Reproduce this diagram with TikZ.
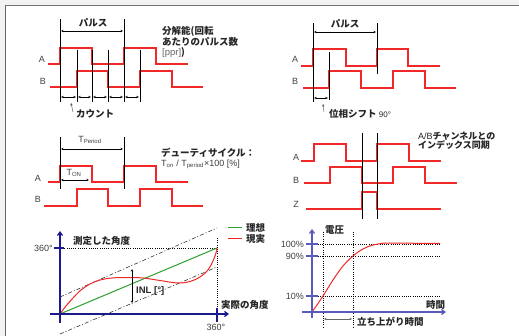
\documentclass[tikz,border=0pt]{standalone}
\usepackage{fontspec}
\setmainfont{Liberation Sans}
\newfontfamily\jp{Noto Sans CJK JP}
\usetikzlibrary{arrows.meta}
\definecolor{sigred}{HTML}{F02828}
\definecolor{navy}{HTML}{1A1A8C}
\definecolor{lblue}{HTML}{5A5AB8}
\definecolor{grn}{HTML}{2EA02E}
\definecolor{lblgray}{HTML}{404040}
\begin{document}
\begin{tikzpicture}[x=1pt,y=-1pt,
  sig/.style={draw=sigred,line width=1.15pt,line join=miter},
  blk/.style={draw=black,line width=1pt},
  dimarr/.style={{Stealth[length=2.6pt,width=2.4pt]}-{Stealth[length=2.6pt,width=2.4pt]},line width=0.5pt},
  ptr/.style={-{Stealth[length=2.6pt,width=2.2pt]},line width=0.4pt,draw=black!70},
  jpt/.style={font=\jp\bfseries\fontsize{9.5}{10}\selectfont,inner sep=0pt,text=black!85},
  lbl/.style={font=\fontsize{9}{10}\selectfont,inner sep=0pt,text=lblgray},
  axis/.style={line width=1.2pt,-{Straight Barb[length=3.5pt,width=5pt]}},
  dotl/.style={draw=black,line width=0.6pt,dash pattern=on 1pt off 1.2pt},
  dashdot/.style={draw=black!80,line width=0.6pt,dash pattern=on 4pt off 2pt on 1pt off 2pt}
]
\useasboundingbox (0,0) rectangle (519,336);
% frame
\fill[black!5] (0,0) rectangle (519,336);
\fill[white] (6,6) rectangle (519,336);
\draw[black!55,line width=1.6pt] (5.2,5.6) -- (519,5.6);
\draw[black!60,line width=0.8pt] (5.6,5.6) -- (5.6,336);

%================ Panel 1 =================
\draw[sig] (48,64)--(60,64)--(60,48)--(92,48)--(92,64)--(124,64)--(124,48)--(156,48)--(156,64)--(188,64);
\draw[sig] (50,87)--(77,87)--(77,71)--(108,71)--(108,87)--(140,87)--(140,71)--(172,71)--(172,87)--(203,87);
\draw[blk] (60,19)--(60,102);
\draw[blk] (124,19)--(124,102);
\foreach \xx in {77,92,108,140} \draw[blk] (\xx,50)--(\xx,102);
\coordinate (p1l) at (61,31); \coordinate (p1r) at (123,31);
\draw[dimarr] (p1l)--(p1r);
\node[jpt] (pulse1) at (93,23) {パルス};
\foreach \a/\b in {60/77,77/92,92/108,108/124,124/140}
  \draw[dimarr] (\a+1.2,97)--(\b-1.2,97);
\node[lbl] (A1) at (42,59) {A};
\node[lbl] (B1) at (43,81) {B};
\node[jpt,anchor=west] (count) at (76,114) {カウント};
\coordinate (c1a) at (73,112); \coordinate (c1b) at (71,103);
\draw[ptr] (c1a)--(c1b);
\node[jpt,anchor=north west,align=left] (reso) at (162,26)
  {分解能(回転\\あたりのパルス数\\{\fontspec{Liberation Sans}\mdseries\color{black!60}[ppr]})};

%================ Panel 2 =================
\draw[sig] (301,66)--(313,66)--(313,49)--(346,49)--(346,66)--(377,66)--(377,49)--(408,49)--(408,66)--(440,66);
\draw[sig] (303,88)--(329,88)--(329,71)--(361,71)--(361,88)--(393,88)--(393,71)--(425,71)--(425,88)--(456,88);
\draw[blk] (313,23)--(313,102);
\draw[blk] (377,23)--(377,74);
\draw[blk] (329,52)--(329,100);
\coordinate (p2l) at (314,32); \coordinate (p2r) at (376,32);
\draw[dimarr] (p2l)--(p2r);
\node[jpt] (pulse2) at (345,24) {パルス};
\coordinate (ph1) at (314.2,98); \coordinate (ph2) at (327.8,98);
\draw[dimarr] (ph1)--(ph2);
\node[lbl] (A2) at (295,59) {A};
\node[lbl] (B2) at (295,81) {B};
\node[jpt,anchor=west] (phase) at (329,114) {位相シフト {\fontspec{Liberation Sans}\mdseries\fontsize{8}{9}\selectfont 90°}};
\coordinate (c2a) at (324,112); \coordinate (c2b) at (323,104);
\draw[ptr] (c2a)--(c2b);

%================ Panel 3 =================
\draw[sig] (48,182)--(60,182)--(60,166)--(92,166)--(92,182)--(124,182)--(124,166)--(156,166)--(156,182)--(188,182);
\draw[sig] (44,206)--(77,206)--(77,189)--(108,189)--(108,206)--(140,206)--(140,189)--(172,189)--(172,206)--(203,206);
\draw[blk] (60,137)--(60,189);
\draw[blk] (124,137)--(124,189);
\coordinate (tp1) at (61,149); \coordinate (tp2) at (123,149);
\draw[dimarr] (tp1)--(tp2);
\node[lbl] (tper) at (90,140) {T\textsubscript{Period}};
\coordinate (to1) at (61,180); \coordinate (to2) at (89,180);
\draw[dimarr] (to1)--(to2);
\node[lbl] (ton) at (74,173) {T\textsubscript{ON}};
\node[lbl] (A3) at (38,178) {A};
\node[lbl] (B3) at (38,199) {B};
\node[jpt,anchor=west] (duty) at (161,153) {デューティサイクル：};
\node[lbl,anchor=west] (dutyf) at (161,164) {T\textsubscript{on} / T\textsubscript{period}×100 [\%]};

%================ Panel 4 =================
\draw[sig] (301,161)--(314,161)--(314,144)--(346,144)--(346,161)--(377,161)--(377,144)--(409,144)--(409,161)--(441,161);
\draw[sig] (304,183)--(330,183)--(330,167)--(362,167)--(362,183)--(393,183)--(393,167)--(425,167)--(425,183)--(457,183);
\draw[sig] (306,209)--(362,209)--(362,192)--(377,192)--(377,209)--(441,209);
\draw[blk] (362,133)--(362,219);
\draw[blk] (377,133)--(377,219);
\node[lbl] (A4) at (296,157) {A};
\node[lbl] (B4) at (296,180) {B};
\node[lbl] (Z4) at (296,204) {Z};
\node[jpt,anchor=north west,align=left,font=\jp\bfseries\fontsize{9}{9.3}\selectfont] (sync) at (418,132)
  {{\fontspec{Liberation Sans}\mdseries A/B}チャンネルとの\\インデックス同期};

%================ Panel 5 =================
\draw[dotl] (60,248)--(217,248);
\draw[dotl] (217,238)--(217,314);
\draw[dashdot] (60,297)--(217,228);
\draw[dashdot] (60,334)--(217,267);
\draw[draw=grn,line width=1pt] (60,314)--(217,248);
\draw[draw=sigred,line width=1pt] plot[smooth,tension=0.6] coordinates {(60,314) (66,306) (73,298) (81,290) (90,284) (100,280) (112,278) (128,277.5) (143,278) (160,280.5) (178,283) (190,281.5) (200,277) (208,270) (213,261) (216,253) (217,248)};
\draw[navy,axis] (60,323)--(60,231);
\draw[navy,axis] (50,314)--(229,314);
\draw[navy,line width=1.2pt] (54,248)--(64,248);
\draw[navy,line width=1.2pt] (217,308)--(217,322);
\coordinate (inl1) at (132,269); \coordinate (inl2) at (132,303);
\draw[dimarr,line width=0.6pt] (inl1)--(inl2);
\node[jpt,anchor=west] (inl) at (136,291) {{\fontspec{Liberation Sans}INL [°]}};
\node[lbl,anchor=east] (y360) at (53,248) {360°};
\node[lbl] (x360) at (216,327) {360°};
\node[jpt,anchor=west] (meas) at (73,241) {測定した角度};
\node[jpt,anchor=west] (act) at (221,305) {実際の角度};
% legend
\draw[draw=grn,line width=1pt] (228,228)--(242,228);
\draw[draw=sigred,line width=1pt] (228,239)--(242,239);
\node[jpt,anchor=west] (ideal) at (246,228) {理想};
\node[jpt,anchor=west] (real) at (246,239) {現実};

%================ Panel 6 =================
\draw[dotl] (318,244)--(440,244);
\draw[dotl] (318,256)--(440,256);
\draw[dotl] (318,296)--(440,296);
\draw[dotl] (323,232)--(323,327);
\draw[dotl] (353,232)--(353,327);
\draw[draw=sigred,line width=1pt] plot[smooth,tension=0.6] coordinates {(312,312) (317,305) (323,296) (333,280) (343,266) (353,256) (363,249) (373,245) (385,243)} -- (440,243.5);
\draw[lblue,axis] (312,318)--(312,229);
\draw[lblue,axis] (302,312)--(446,312);
\foreach \yy in {244,256,296} \draw[lblue,line width=1.2pt] (306,\yy)--(318,\yy);
\node[lbl,anchor=east] (p100) at (304,244) {100\%};
\node[lbl,anchor=east] (p90) at (304,256) {90\%};
\node[lbl,anchor=east] (p10) at (304,296) {10\%};
\coordinate (r1) at (324,319); \coordinate (r2) at (352,319);
\draw[dimarr,draw=black!60] (r1)--(r2);
\node[jpt,anchor=west] (volt) at (325,230) {電圧};
\node[jpt,anchor=west] (time) at (426,305) {時間};
\node[jpt,anchor=west] (rise) at (357,322) {立ち上がり時間};
\end{tikzpicture}
\end{document}
